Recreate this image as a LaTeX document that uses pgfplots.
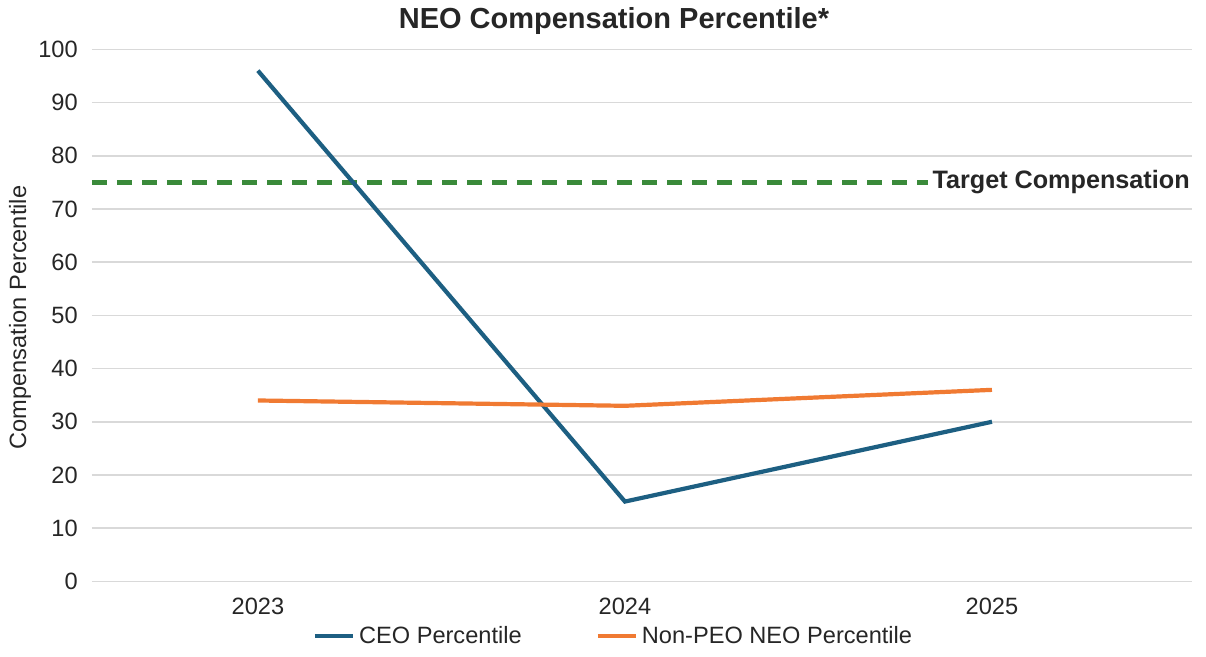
\documentclass[border=0pt]{standalone}
\usepackage{pgfplots}
\pgfplotsset{compat=1.18}
\usepackage{fontspec}
\setmainfont{Liberation Sans}
\definecolor{ceo}{HTML}{1D5F82}
\definecolor{neo}{HTML}{F07A32}
\definecolor{tgt}{HTML}{3A8A3A}
\definecolor{grd}{HTML}{D9D9D9}
\definecolor{txt}{HTML}{262626}
\begin{document}
\fontsize{11.8}{14}\selectfont
\begin{tikzpicture}
\begin{axis}[
  scale only axis, width=550pt, height=266pt,
  xmin=-0.452, xmax=2.545, ymin=0, ymax=100,
  xtick={0,1,2}, xticklabels={2023,2024,2025},
  ytick={0,10,...,100},
  axis line style={draw=none},
  major tick length=0pt,
  ymajorgrids, grid style={grd, line width=0.75pt},
  tick label style={text=txt, font=\fontsize{11.8}{14}\selectfont},
  /pgf/number format/assume math mode=true,
  yticklabel style={xshift=-3pt},
  xticklabel style={yshift=-4pt},
  clip=false,
  legend columns=2,
  legend style={draw=none, at={(0.475,-0.1034)}, anchor=center, font=\fontsize{11.8}{14}\selectfont, text=txt,
    /tikz/every even column/.append style={column sep=35pt}},
  legend image code/.code={\draw[#1] (0pt,0pt) -- (19pt,0pt);},
]
\addplot[tgt, line width=2.5pt, dash pattern=on 7.5pt off 5pt, forget plot] coordinates {(-0.452,75) (1.826,75)};
\addplot[ceo, line width=2.1pt] coordinates {(0,96) (1,15) (2,30)};
\addlegendentry{CEO Percentile}
\addplot[neo, line width=2.1pt] coordinates {(0,34) (1,33) (2,36)};
\addlegendentry{Non-PEO NEO Percentile}
\node[anchor=west, inner sep=2pt, text=txt, font=\fontsize{12.6}{14}\selectfont\bfseries] at (axis cs:1.826,75) {Target Compensation};
\node[text=txt, font=\fontsize{14.5}{16}\selectfont\bfseries] at ([yshift=14pt]rel axis cs:0.4745,1) {NEO Compensation Percentile*};
\node[rotate=90, text=txt] at ([xshift=-36pt]rel axis cs:0,0.496) {Compensation Percentile};
\end{axis}
\path (-46pt,-37.5pt) rectangle (557pt,290pt);
\end{tikzpicture}
\end{document}
